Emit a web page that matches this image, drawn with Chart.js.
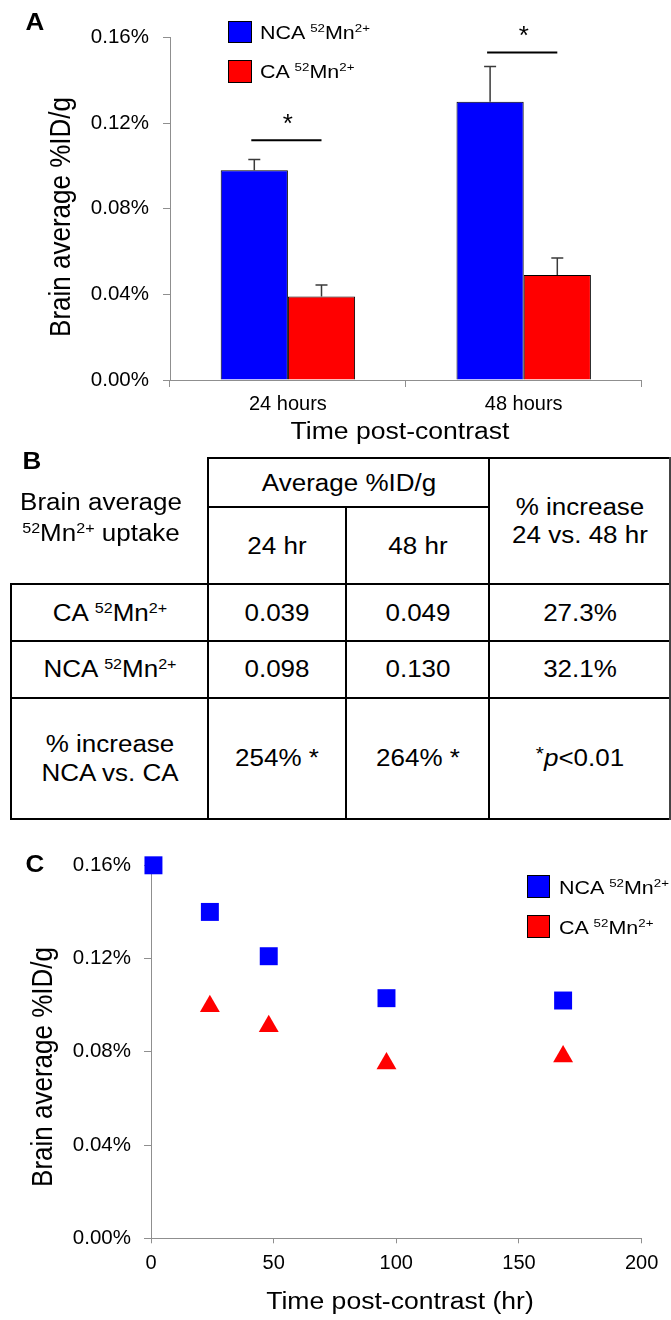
<!DOCTYPE html>
<html><head><meta charset="utf-8">
<script src="https://cdn.jsdelivr.net/npm/chart.js@4.4.1/dist/chart.umd.min.js"></script>
<style>
html,body{margin:0;padding:0;background:#fff;}
#page{position:relative;width:671px;height:1320px;overflow:hidden;font-family:'Liberation Sans',Arial,sans-serif;color:#000;background:#fff;}
canvas{position:absolute;left:0;}
.t{position:absolute;white-space:nowrap;line-height:1;transform:translate(-50%,-50%) scaleX(1.13);}
.tl{position:absolute;white-space:nowrap;line-height:1;transform-origin:0 50%;transform:translateY(-50%) scaleX(1.13);}
sup{font-size:0.62em;line-height:0;vertical-align:0.55em;}
.ln{position:absolute;background:#000;}
.box{position:absolute;box-sizing:border-box;border:1px solid #000;}
</style></head>
<body><div id="page">
<canvas id="cA" width="671" height="450" style="top:0"></canvas>
<canvas id="cC" width="671" height="480" style="top:840px"></canvas>
</div>
<script>
// ---------- data ----------
const barCategories = ['24 hours', '48 hours'];
const ncaBarMean = [0.098, 0.130];
const caBarMean = [0.039, 0.049];
const ncaBarErr = [0.005, 0.0165];
const caBarErr = [0.0054, 0.008];
const sigBarLevel = [0.112, 0.153];
const pctTicks = [0, 0.04, 0.08, 0.12, 0.16];

const tableColHead = ['24 hr', '48 hr'];
const tableGroups = ['CA', 'NCA'];
const uptake24 = ['0.039', '0.098'];
const uptake48 = ['0.049', '0.130'];
const increase24vs48 = ['27.3%', '32.1%'];
const increaseNCAvsCA = ['254%', '264%'];

const timeTicks = [0, 50, 100, 150, 200];
const timeNCA = [1, 24, 48, 96, 168];
const valNCA = [0.160, 0.140, 0.121, 0.103, 0.102];
const timeCA = [24, 48, 96, 168];
const valCA = [0.0995, 0.091, 0.075, 0.078];

// ---------- helpers ----------
const FONT = "'Liberation Sans', Arial, sans-serif";
Chart.defaults.font.family = FONT;
Chart.defaults.color = '#000';
const AXIS = '#8f8f8f';
const page = document.getElementById('page');
const SUP = '<sup>52</sup>Mn<sup>2+</sup>';

function addText(html, cx, cy, size, left, extra) {
  const d = document.createElement('div');
  d.className = left ? 'tl' : 't';
  d.style.left = cx + 'px'; d.style.top = cy + 'px';
  d.style.fontSize = size + 'px';
  if (extra) d.style.cssText += extra;
  d.innerHTML = html;
  page.appendChild(d);
}
function addLine(x, y, w, h, color) {
  const d = document.createElement('div');
  d.className = 'ln';
  d.style.left = x + 'px'; d.style.top = y + 'px';
  d.style.width = w + 'px'; d.style.height = h + 'px';
  if (color) d.style.background = color;
  page.appendChild(d);
}
function addBox(x, y, w, h, color) {
  const d = document.createElement('div');
  d.className = 'box';
  d.style.left = x + 'px'; d.style.top = y + 'px';
  d.style.width = w + 'px'; d.style.height = h + 'px';
  d.style.background = color;
  page.appendChild(d);
}
function drawTitle(ctx, text, x, y, size, rot) {
  ctx.save();
  ctx.translate(x, y);
  if (rot) { ctx.rotate(-Math.PI / 2); ctx.scale(1, 1.13); } else { ctx.scale(1.13, 1); }
  ctx.font = size + 'px ' + FONT;
  ctx.textAlign = 'center'; ctx.textBaseline = 'middle'; ctx.fillStyle = '#000';
  ctx.fillText(text, 0, 0);
  ctx.restore();
}

// ---------- panel A ----------
const panelAExtras = {
  id: 'panelAExtras',
  afterDatasetsDraw(chart) {
    const ctx = chart.ctx, y = chart.scales.y;
    const errs = [ncaBarErr, caBarErr];
    const means = [ncaBarMean, caBarMean];
    ctx.save();
    ctx.strokeStyle = '#3a3a3a'; ctx.lineWidth = 1.5;
    chart.data.datasets.forEach((ds, di) => {
      chart.getDatasetMeta(di).data.forEach((bar, i) => {
        const top = y.getPixelForValue(means[di][i] + errs[di][i]);
        ctx.beginPath();
        ctx.moveTo(bar.x, bar.y); ctx.lineTo(bar.x, top);
        ctx.moveTo(bar.x - 6, top); ctx.lineTo(bar.x + 6, top);
        ctx.stroke();
      });
    });
    const m0 = chart.getDatasetMeta(0).data, m1 = chart.getDatasetMeta(1).data;
    ctx.strokeStyle = '#000'; ctx.lineWidth = 2;
    ctx.fillStyle = '#000'; ctx.font = '26px ' + FONT;
    ctx.textAlign = 'center'; ctx.textBaseline = 'alphabetic';
    sigBarLevel.forEach((lv, i) => {
      const py = y.getPixelForValue(lv);
      ctx.beginPath(); ctx.moveTo(m0[i].x - 3, py); ctx.lineTo(m1[i].x, py); ctx.stroke();
      ctx.fillText('*', (m0[i].x + m1[i].x) / 2, py - 8);
    });
    ctx.restore();
  },
  afterDraw(chart) {
    drawTitle(chart.ctx, 'Brain average %ID/g', 62, 217, 26, true);
    drawTitle(chart.ctx, 'Time post-contrast', 400, 433, 23.5, false);
  }
};

new Chart(document.getElementById('cA'), {
  type: 'bar',
  data: {
    labels: barCategories,
    datasets: [
      { label: 'NCA', data: ncaBarMean, backgroundColor: '#0000ff', borderColor: '#000', borderWidth: 1 },
      { label: 'CA', data: caBarMean, backgroundColor: '#ff0000', borderColor: '#000', borderWidth: 1 }
    ]
  },
  options: {
    responsive: false, animation: false, devicePixelRatio: 1,
    layout: { padding: { top: 37.5, right: 29.4, left: 0, bottom: 0 } },
    datasets: { bar: { categoryPercentage: 0.57, barPercentage: 1 } },
    plugins: { legend: { display: false }, tooltip: { enabled: false } },
    scales: {
      x: {
        grid: { offset: true, drawOnChartArea: false, tickLength: 7, color: AXIS },
        border: { color: AXIS, width: 1 },
        ticks: { font: { size: 20 }, padding: 5, color: '#000' },
        afterFit(s) { s.height = 70; }
      },
      y: {
        min: 0, max: 0.16,
        afterBuildTicks(s) { s.ticks = pctTicks.map(v => ({ value: v })); },
        grid: { drawOnChartArea: false, tickLength: 7, color: AXIS },
        border: { color: AXIS, width: 1 },
        ticks: { font: { size: 20.5 }, padding: 14, color: '#000', callback: v => v.toFixed(2) + '%' },
        afterFit(s) { s.width = 170; }
      }
    }
  },
  plugins: [panelAExtras]
});

addText('A', 35, 22, 23, false, 'font-weight:bold;');
addBox(228, 21, 24, 22, '#0000ff');
addBox(228, 60, 24, 23, '#ff0000');
addText('NCA ' + SUP, 260, 32, 19, true);
addText('CA ' + SUP, 260, 71, 19, true);

// ---------- panel B (table) ----------
addText('B', 32, 461, 23, false, 'font-weight:bold;');
const colX = [11, 208, 346, 489, 670];
const rowY = [458, 507, 584, 641, 698, 819];
const LW = 2;
addLine(colX[1] - 1, rowY[0] - 1, colX[4] - colX[1] + 2, LW);
addLine(colX[1] - 1, rowY[1] - 1, colX[3] - colX[1] + 2, LW);
for (let r = 2; r < rowY.length; r++) addLine(colX[0] - 1, rowY[r] - 1, colX[4] - colX[0] + 2, LW);
addLine(colX[0] - 1, rowY[2] - 1, LW, rowY[5] - rowY[2] + 2);
addLine(colX[1] - 1, rowY[0] - 1, LW, rowY[5] - rowY[0] + 2);
addLine(colX[2] - 1, rowY[1] - 1, LW, rowY[5] - rowY[1] + 2);
addLine(colX[3] - 1, rowY[0] - 1, LW, rowY[5] - rowY[0] + 2);
addLine(colX[4] - 1, rowY[0] - 1, LW, rowY[5] - rowY[0] + 2, '#444');

const TS = 23;
const cxc = i => (colX[i] + colX[i + 1]) / 2;
addText('Brain average', 101, 502, TS);
addText(SUP + ' uptake', 101, 533, TS);
addText('Average %ID/g', (colX[1] + colX[3]) / 2, 483, TS);
addText(tableColHead[0], cxc(1), 546, TS);
addText(tableColHead[1], cxc(2), 546, TS);
addText('% increase', cxc(3), 507, TS);
addText('24 vs. 48 hr', cxc(3), 535, TS);
const rowCY = [613, 669];
tableGroups.forEach((g, i) => {
  addText(g + ' ' + SUP, cxc(0), rowCY[i], TS);
  addText(uptake24[i], cxc(1), rowCY[i], TS);
  addText(uptake48[i], cxc(2), rowCY[i], TS);
  addText(increase24vs48[i], cxc(3), rowCY[i], TS);
});
addText('% increase', cxc(0), 744, TS);
addText('NCA vs. CA', cxc(0), 773, TS);
addText(increaseNCAvsCA[0] + ' *', cxc(1), 758, TS);
addText(increaseNCAvsCA[1] + ' *', cxc(2), 758, TS);
addText('<sup style="font-size:0.8em;vertical-align:0.3em">*</sup><i>p</i>&lt;0.01', cxc(3), 758, TS);

// ---------- panel C ----------
const panelCTitles = {
  id: 'panelCTitles',
  afterDraw(chart) {
    drawTitle(chart.ctx, 'Brain average %ID/g', 44, 227, 26, true);
    drawTitle(chart.ctx, 'Time post-contrast (hr)', 400, 463, 23.5, false);
  }
};
new Chart(document.getElementById('cC'), {
  type: 'scatter',
  data: {
    datasets: [
      { label: 'NCA', data: timeNCA.map((t, i) => ({ x: t, y: valNCA[i] })), pointStyle: 'rect',
        pointRadius: 12.7, pointHoverRadius: 12.7, pointBackgroundColor: '#0000ff', pointBorderWidth: 0, clip: false },
      { label: 'CA', data: timeCA.map((t, i) => ({ x: t, y: valCA[i] })), pointStyle: 'triangle',
        pointRadius: 11.5, pointHoverRadius: 11.5, pointBackgroundColor: '#ff0000', pointBorderWidth: 0, clip: false }
    ]
  },
  options: {
    responsive: false, animation: false, devicePixelRatio: 1,
    layout: { padding: { top: 24, right: 29.4, left: 0, bottom: 0 } },
    plugins: { legend: { display: false }, tooltip: { enabled: false } },
    scales: {
      x: {
        type: 'linear', min: 0, max: 200,
        afterBuildTicks(s) { s.ticks = timeTicks.map(v => ({ value: v })); },
        grid: { drawOnChartArea: false, tickLength: 5, color: AXIS },
        border: { color: AXIS, width: 1 },
        ticks: { font: { size: 20 }, padding: 8, color: '#000' },
        afterFit(s) { s.height = 81.7; }
      },
      y: {
        type: 'linear', min: 0, max: 0.16,
        afterBuildTicks(s) { s.ticks = pctTicks.map(v => ({ value: v })); },
        grid: { drawOnChartArea: false, tickLength: 7, color: AXIS },
        border: { color: AXIS, width: 1 },
        ticks: { font: { size: 20.5 }, padding: 13, color: '#000', callback: v => v.toFixed(2) + '%' },
        afterFit(s) { s.width = 151; }
      }
    }
  },
  plugins: [panelCTitles]
});

addText('C', 35, 864, 23, false, 'font-weight:bold;');
addBox(527, 875, 23, 23, '#0000ff');
addBox(527, 915, 23, 23, '#ff0000');
addText('NCA ' + SUP, 559, 887, 19, true);
addText('CA ' + SUP, 559, 927, 19, true);
</script>
</body></html>
